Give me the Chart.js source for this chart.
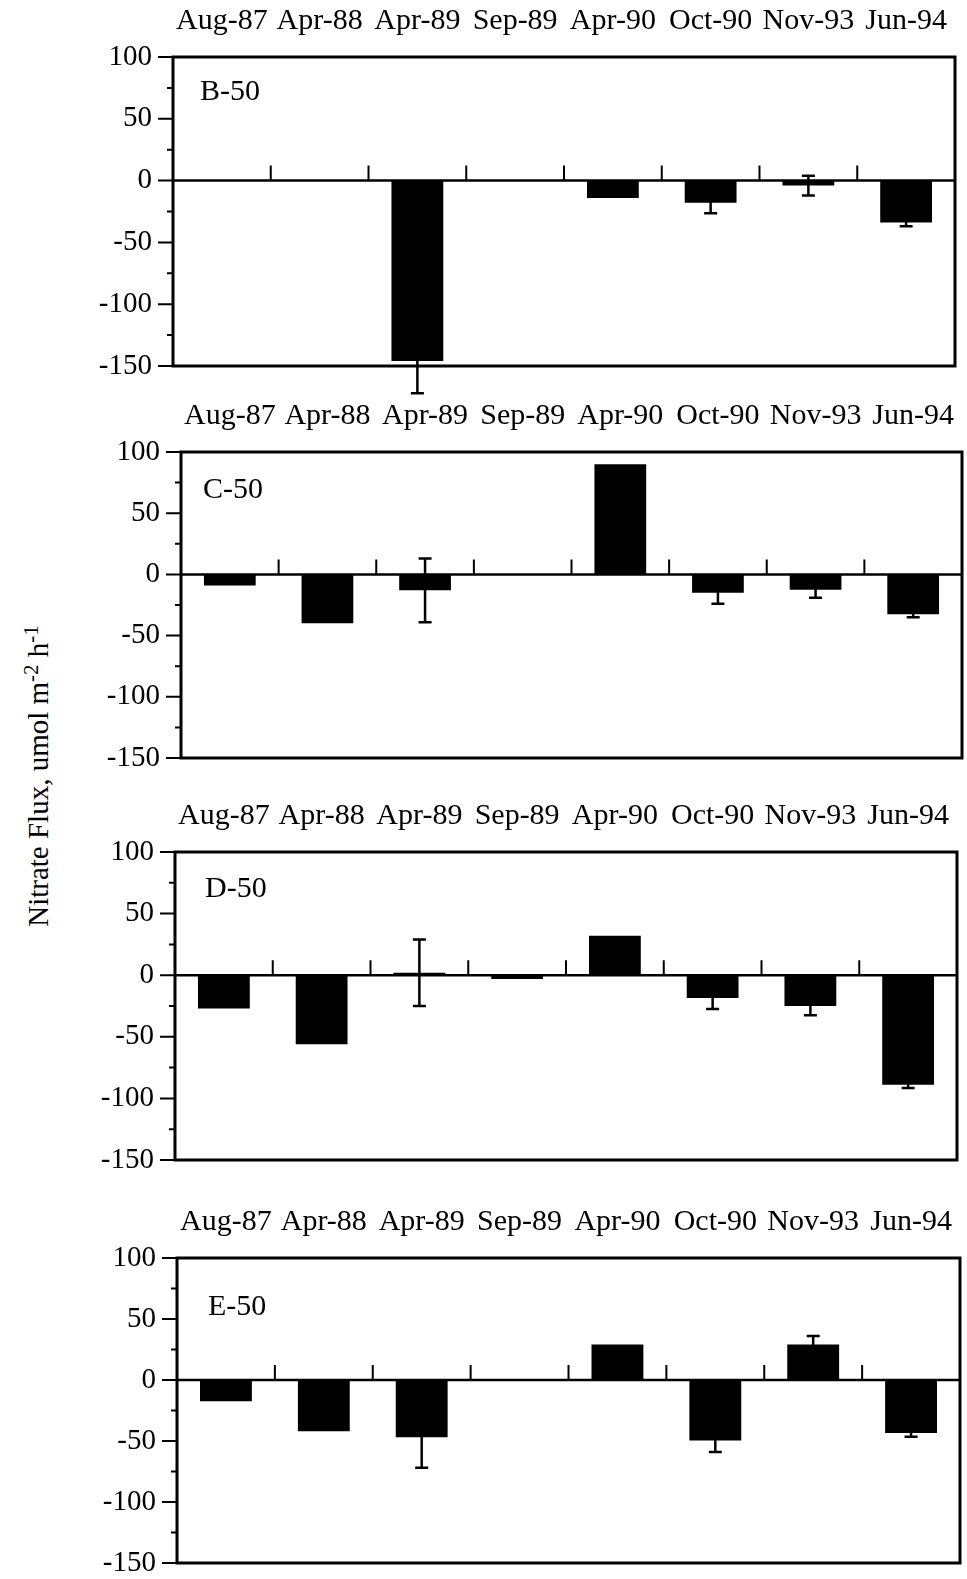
<!DOCTYPE html>
<html>
<head>
<meta charset="utf-8">
<script src="https://cdn.jsdelivr.net/npm/chart.js@4.4.0/dist/chart.umd.min.js"></script>
<style>
  body { margin: 0; background: #fff; width: 967px; height: 1579px; position: relative; overflow: hidden; font-family: 'Liberation Serif', serif; }
  canvas.panel { position: absolute; left: 0; }
  #ytitle { position: absolute; left: 37px; top: 776px; transform: translate(-50%, -50%) rotate(-90deg); font-size: 29px; white-space: nowrap; color: #000; }
  #ytitle sup { font-size: 21px; }
</style>
</head>
<body>
<div id="ytitle">Nitrate Flux, umol m<sup>-2</sup> h<sup>-1</sup></div>
<canvas class="panel" id="b50"></canvas>
<canvas class="panel" id="c50"></canvas>
<canvas class="panel" id="d50"></canvas>
<canvas class="panel" id="e50"></canvas>
<script>
const dates = ['Aug-87', 'Apr-88', 'Apr-89', 'Sep-89', 'Apr-90', 'Oct-90', 'Nov-93', 'Jun-94'];
const yMin = -150;
const yMax = 100;
const yStep = 50;

// nitrate flux per site and its error bar half-width
const b50Flux = [null, null, -146, null, -14, -18, -4, -34];
const b50Err = [0, 0, 26, 0, 0, 8.5, 8, 3];
const c50Flux = [-9, -40, -13, null, 90, -15, -12.5, -32.5];
const c50Err = [0, 0, 26, 0, 0, 9, 6.5, 2.5];
const d50Flux = [-27, -56, 2, -3, 32, -18.5, -25, -89];
const d50Err = [0, 0, 27, 0, 0, 9, 7.5, 2.5];
const e50Flux = [-17.5, -42, -47, null, 29, -49.5, 29, -43.5];
const e50Err = [0, 0, 25, 0, 0, 9.5, 7, 3];

const PAGE_W = 967;
const HEAD = 57;
const FOOT = 32;
const FONT_SIZE = 29;

const panels = [
  { id: 'b50', name: 'B-50', flux: b50Flux, err: b50Err, left: 173, right: 955, top: 57, bottom: 366, nameDx: 27, nameDy: 35 },
  { id: 'c50', name: 'C-50', flux: c50Flux, err: c50Err, left: 181, right: 962, top: 452, bottom: 758, nameDx: 22, nameDy: 38 },
  { id: 'd50', name: 'D-50', flux: d50Flux, err: d50Err, left: 175, right: 957, top: 852, bottom: 1160, nameDx: 30, nameDy: 37 },
  { id: 'e50', name: 'E-50', flux: e50Flux, err: e50Err, left: 177, right: 960, top: 1258, bottom: 1563, nameDx: 31, nameDy: 49 }
];

Chart.defaults.font.family = "'Liberation Serif', 'Times New Roman', serif";
Chart.defaults.color = '#000';

// frame, zero line, tick marks, error bars and site name
const panelDecor = {
  id: 'panelDecor',
  afterDatasetsDraw(chart, args, opts) {
    const { ctx, chartArea: a, scales: { x, y } } = chart;
    const values = chart.data.datasets[0].data;
    const y0 = y.getPixelForValue(0);
    ctx.save();
    ctx.strokeStyle = '#000';
    ctx.lineCap = 'butt';

    // zero line
    ctx.lineWidth = 2.5;
    ctx.beginPath();
    ctx.moveTo(a.left, y0);
    ctx.lineTo(a.right, y0);
    ctx.stroke();

    // category boundary ticks sitting on the zero line
    const half = (x.getPixelForValue(1) - x.getPixelForValue(0)) / 2;
    ctx.lineWidth = 2;
    ctx.beginPath();
    for (let i = 1; i < values.length; i++) {
      const bx = x.getPixelForValue(i) - half;
      ctx.moveTo(bx, y0);
      ctx.lineTo(bx, y0 - 15);
    }
    ctx.stroke();

    // error bars
    ctx.lineWidth = 2.5;
    values.forEach((v, i) => {
      const e = opts.errors[i];
      if (v == null || !e) return;
      const cx = x.getPixelForValue(i);
      const yt = y.getPixelForValue(v + e);
      const yb = y.getPixelForValue(v - e);
      ctx.beginPath();
      ctx.moveTo(cx, yt);
      ctx.lineTo(cx, yb);
      ctx.moveTo(cx - 6.5, yt);
      ctx.lineTo(cx + 6.5, yt);
      ctx.moveTo(cx - 6.5, yb);
      ctx.lineTo(cx + 6.5, yb);
      ctx.stroke();
    });

    // y tick marks, long on labelled values, short halfway between
    ctx.lineWidth = 2;
    ctx.beginPath();
    for (let v = yMin; v <= yMax; v += yStep / 2) {
      const py = y.getPixelForValue(v);
      const len = v % yStep === 0 ? 15 : 6;
      ctx.moveTo(a.left - len, py);
      ctx.lineTo(a.left, py);
    }
    ctx.stroke();

    // frame
    ctx.lineWidth = 3;
    ctx.strokeRect(a.left, a.top, a.right - a.left, a.bottom - a.top);

    // site name
    ctx.fillStyle = '#000';
    ctx.font = "30px 'Liberation Serif', serif";
    ctx.textAlign = 'left';
    ctx.textBaseline = 'middle';
    ctx.fillText(opts.name, a.left + opts.nameDx, a.top + opts.nameDy);
    ctx.restore();
  }
};

panels.forEach(p => {
  const canvas = document.getElementById(p.id);
  const h = p.bottom - p.top + HEAD + FOOT;
  canvas.width = PAGE_W;
  canvas.height = h;
  canvas.style.top = (p.top - HEAD) + 'px';

  new Chart(canvas, {
    type: 'bar',
    data: {
      labels: dates,
      datasets: [{
        data: p.flux,
        backgroundColor: '#000',
        borderWidth: 0,
        barPercentage: 0.53,
        categoryPercentage: 1
      }]
    },
    options: {
      responsive: false,
      animation: false,
      layout: { padding: { left: 0, right: PAGE_W - p.right, top: 0, bottom: FOOT } },
      plugins: {
        legend: { display: false },
        tooltip: { enabled: false },
        panelDecor: { errors: p.err, name: p.name, nameDx: p.nameDx, nameDy: p.nameDy }
      },
      scales: {
        x: {
          position: 'top',
          grid: { display: false },
          border: { display: false },
          ticks: { font: { size: FONT_SIZE + 1 }, padding: 10, maxRotation: 0, autoSkip: false },
          afterFit: s => { s.height = HEAD; }
        },
        y: {
          min: yMin,
          max: yMax,
          grid: { display: false },
          border: { display: false },
          ticks: { stepSize: yStep, font: { size: FONT_SIZE }, padding: 13 },
          afterFit: s => { s.width = p.left; }
        }
      }
    },
    plugins: [panelDecor]
  });
});
</script>
</body>
</html>
